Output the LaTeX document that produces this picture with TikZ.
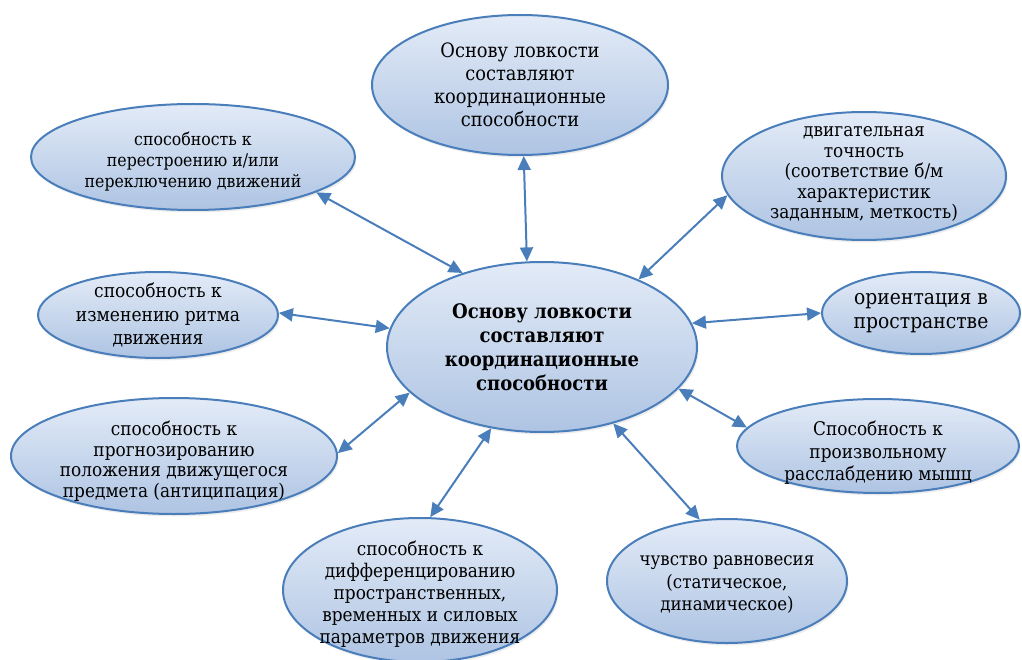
\documentclass[tikz,border=0pt]{standalone}
\usepackage{fontspec}
\setmainfont[FakeStretch=0.9]{DejaVu Serif}
\usetikzlibrary{arrows.meta,shapes.geometric,shadows}
\definecolor{bord}{HTML}{4A7EBB}
\definecolor{ftop}{HTML}{E3EBF7}
\definecolor{fbot}{HTML}{AEC4E3}
\definecolor{arr}{HTML}{4A7EBB}
\tikzset{
  bub/.style={ellipse, draw=bord, line width=2pt, top color=ftop, bottom color=fbot,
    inner sep=0pt, drop shadow={shadow xshift=1.5pt, shadow yshift=-2.5pt, opacity=0.15}},
  lbl/.style n args={2}{align=center, inner sep=0pt, text=black, font=\fontsize{#1}{#2}\selectfont},
  conn/.style={draw=arr, line width=2pt,
    {Triangle[length=14pt,width=13pt]}-{Triangle[length=14pt,width=13pt]}},
}
\begin{document}
\begin{tikzpicture}[x=1pt,y=-1pt]
\useasboundingbox (0,0) rectangle (1022,660);
% nodes
\node[bub, minimum width=310pt, minimum height=170pt,
  label={[lbl={20}{24}, font=\fontsize{20}{24}\selectfont\bfseries]center:{Основу ловкости\\составляют\\координационные\\способности}}] (c) at (542,347) {};
\node[bub, minimum width=296pt, minimum height=140pt,
  label={[lbl={19.8}{23}]center:{Основу ловкости\\составляют\\координационные\\способности}}] (t) at (520,85) {};
\node[bub, minimum width=324pt, minimum height=106pt,
  label={[lbl={17.5}{21}, yshift=-5pt]center:{способность к\\перестроению и/или\\переключению движений}}] (tl) at (193,157) {};
\node[bub, minimum width=284pt, minimum height=128pt,
  label={[lbl={18.8}{20.5}, yshift=2pt]center:{двигательная\\точность\\(соответствие б/м\\характеристик\\заданным, меткость)}}] (tr) at (864,176) {};
\node[bub, minimum width=240pt, minimum height=86pt,
  label={[lbl={19}{23.5}]center:{способность к\\изменению ритма\\движения}}] (l) at (158,315) {};
\node[bub, minimum width=198pt, minimum height=82pt,
  label={[lbl={20.8}{24}]center:{ориентация в\\пространстве}}] (r) at (921,313) {};
\node[bub, minimum width=326pt, minimum height=116pt,
  label={[lbl={18.8}{20.5}, yshift=-5pt]center:{способность к\\прогнозированию\\положения движущегося\\предмета (антиципация)}}] (ll) at (174,456) {};
\node[bub, minimum width=282pt, minimum height=94pt,
  label={[lbl={18.8}{22.5}, yshift=-7pt]center:{Способность к\\произвольному\\расслабдению мышц}}] (lr) at (878,446) {};
\node[bub, minimum width=274pt, minimum height=144pt,
  label={[lbl={18.8}{22}, yshift=-4pt]center:{способность к\\дифференцированию\\пространственных,\\временных и силовых\\параметров движения}}] (b) at (420,590) {};
\node[bub, minimum width=240pt, minimum height=124pt,
  label={[lbl={18.5}{22.5}, yshift=-4pt]center:{чувство равновесия\\(статическое,\\динамическое)}}] (br) at (727,581) {};
% connectors
\draw[conn] (t.273) -- (c.100);
\draw[conn] (tl.-16) -- (c.137);
\draw[conn] (tr.188) -- (c.35);
\draw[conn] (l.1) -- (c.173);
\draw[conn] (r.180) -- (c.9);
\draw[conn] (ll.1) -- (c.199);
\draw[conn] (lr.172) -- (c.-17);
\draw[conn] (b.82) -- (c.238);
\draw[conn] (br.114) -- (c.-47);
\end{tikzpicture}
\end{document}
